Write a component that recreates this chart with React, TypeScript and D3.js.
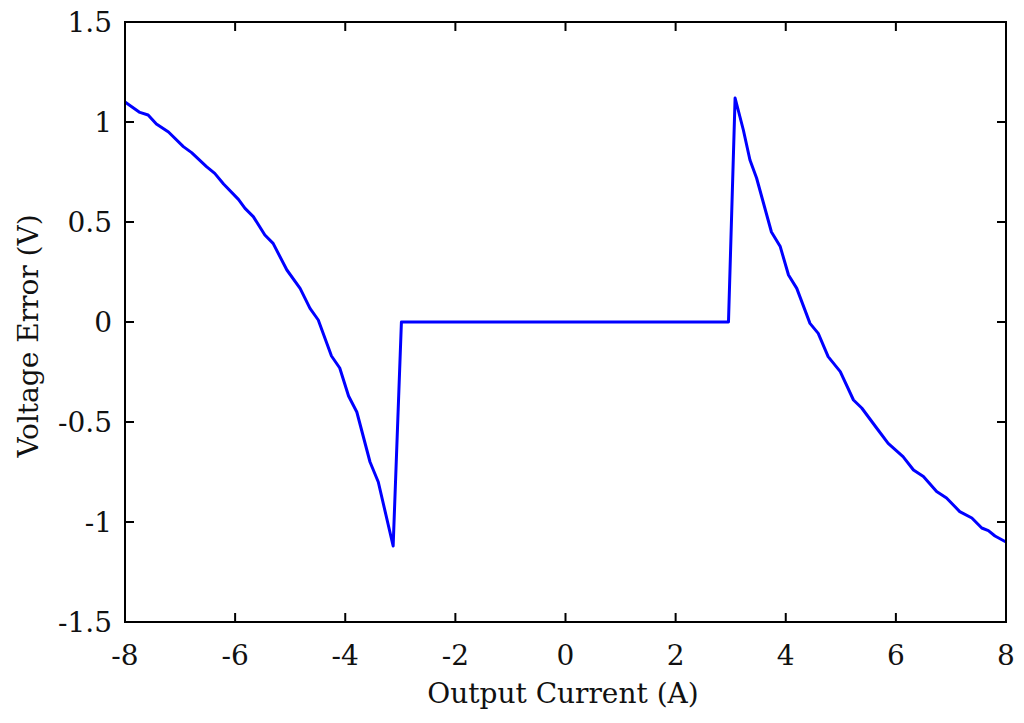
import React from "react";
import * as d3 from "d3";

const currentA: number[] = [
  -8, -7.73, -7.58, -7.43, -7.21, -6.94, -6.79, -6.52, -6.37, -6.21, -5.94, -5.82, -5.67,
  -5.46, -5.31, -5.06, -4.82, -4.64, -4.49, -4.25, -4.1, -3.94, -3.79, -3.55, -3.4, -3.13,
  -2.98, 2.96, 3.08, 3.23, 3.35, 3.47, 3.74, 3.9, 4.05, 4.2, 4.44, 4.59, 4.77, 4.99, 5.23,
  5.38, 5.65, 5.86, 6.13, 6.32, 6.5, 6.74, 6.92, 7.16, 7.38, 7.56, 7.68, 7.8, 8.0,
];
const voltageErrorV: number[] = [
  1.1, 1.048, 1.035, 0.99, 0.95, 0.877, 0.847, 0.777, 0.743, 0.69, 0.613, 0.568, 0.527,
  0.435, 0.393, 0.26, 0.168, 0.068, 0.01, -0.17, -0.23, -0.37, -0.45, -0.7, -0.8, -1.12,
  0, 0, 1.12, 0.96, 0.81, 0.72, 0.45, 0.377, 0.235, 0.168, -0.007, -0.057, -0.173, -0.248,
  -0.39, -0.43, -0.53, -0.607, -0.673, -0.74, -0.773, -0.848, -0.88, -0.948, -0.98, -1.03,
  -1.043, -1.07, -1.1,
];
const xTicks: number[] = [-8, -6, -4, -2, 0, 2, 4, 6, 8];
const yTicks: number[] = [-1.5, -1, -0.5, 0, 0.5, 1, 1.5];
const xLabel = "Output Current (A)";
const yLabel = "Voltage Error (V)";

export default function App() {
  const W = 1024, H = 723;
  const left = 125, right = 1006, top = 22, bottom = 622;
  const x = d3.scaleLinear().domain([-8, 8]).range([left, right]);
  const y = d3.scaleLinear().domain([-1.5, 1.5]).range([bottom, top]);
  const pts: [number, number][] = currentA.map((c, i) => [c, voltageErrorV[i]]);
  const line = d3.line<[number, number]>().x((d) => x(d[0])).y((d) => y(d[1]));
  const font = "'DejaVu Serif', serif";
  const fs = 28;
  const tl = 9;
  return (
    <svg width={W} height={H} style={{ position: "absolute", left: 0, top: 0, background: "#fff" }}
      fontFamily={font}>
      <rect x={0} y={0} width={W} height={H} fill="#fff" />
      <path d={line(pts) || ""} fill="none" stroke="#0000ff" strokeWidth={3} strokeLinejoin="round" />
      {xTicks.map((t) => (
        <g key={"x" + t}>
          <line x1={x(t)} x2={x(t)} y1={bottom} y2={bottom - tl} stroke="#000" strokeWidth={2} />
          <line x1={x(t)} x2={x(t)} y1={top} y2={top + tl} stroke="#000" strokeWidth={2} />
          <text x={x(t)} y={665} textAnchor="middle" fontSize={fs} fill="#111">{String(t).replace("-", "-")}</text>
        </g>
      ))}
      {yTicks.map((t) => (
        <g key={"y" + t}>
          <line x1={left} x2={left + tl} y1={y(t)} y2={y(t)} stroke="#000" strokeWidth={2} />
          <line x1={right} x2={right - tl} y1={y(t)} y2={y(t)} stroke="#000" strokeWidth={2} />
          <text x={112} y={y(t) + 10} textAnchor="end" fontSize={fs} fill="#111">{String(t)}</text>
        </g>
      ))}
      <rect x={left} y={top} width={right - left} height={bottom - top} fill="none" stroke="#000" strokeWidth={2} />
      <text x={563} y={703} textAnchor="middle" fontSize={fs} fill="#111">{xLabel}</text>
      <text transform={`translate(38,336) rotate(-90)`} textAnchor="middle" fontSize={fs} fill="#111">{yLabel}</text>
    </svg>
  );
}
